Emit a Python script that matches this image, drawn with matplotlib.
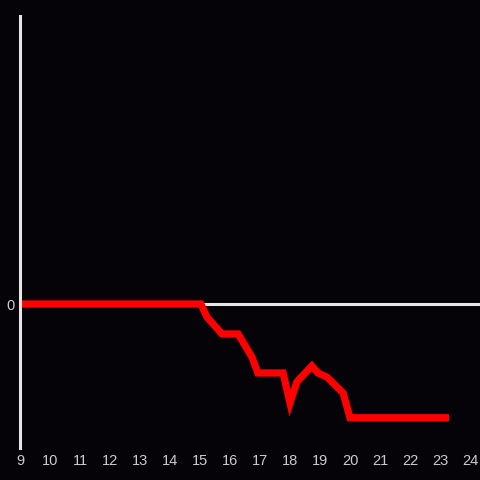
import matplotlib
matplotlib.use("Agg")
import matplotlib.pyplot as plt

hours = [9, 15.03, 15.23, 15.73, 16.27, 16.73, 16.93, 17.77, 18.0, 18.23, 18.73,
         18.93, 19.23, 19.77, 20.0, 23.3]
values = [0, 0, -0.09, -0.208, -0.208, -0.368, -0.479, -0.479, -0.6875, -0.54,
          -0.43, -0.479, -0.507, -0.618, -0.79, -0.79]
xticks = list(range(9, 25))

bg = '#050307'
fig = plt.figure(figsize=(4.8, 4.8), dpi=100, facecolor=bg)
ax = fig.add_axes([20/480, 32/480, 460/480, 432/480], facecolor=bg)

ax.axhline(0, color='#e6e6e6', lw=2.2, zorder=1)
ax.plot(hours, values, color='#ff0000', lw=5.2, zorder=2,
        solid_joinstyle='miter', solid_capstyle='butt')

ax.set_xlim(9, 24.333)
ax.set_ylim(-1, 2)
ax.set_xticks(xticks)
ax.set_xticklabels([str(t) for t in xticks])
ax.set_yticks([0])
ax.set_yticklabels(['0'])

for s in ['top', 'right', 'bottom']:
    ax.spines[s].set_visible(False)
ax.spines['left'].set_color('#e6e6e6')
ax.spines['left'].set_linewidth(2.2)

ax.tick_params(axis='both', length=0, colors='#cccccc', labelsize=10.5, pad=4)
for lab in ax.get_xticklabels() + ax.get_yticklabels():
    lab.set_family('Liberation Sans')
    lab.set_color('#cccccc')

fig.savefig('out.png', dpi=100, facecolor=bg)
